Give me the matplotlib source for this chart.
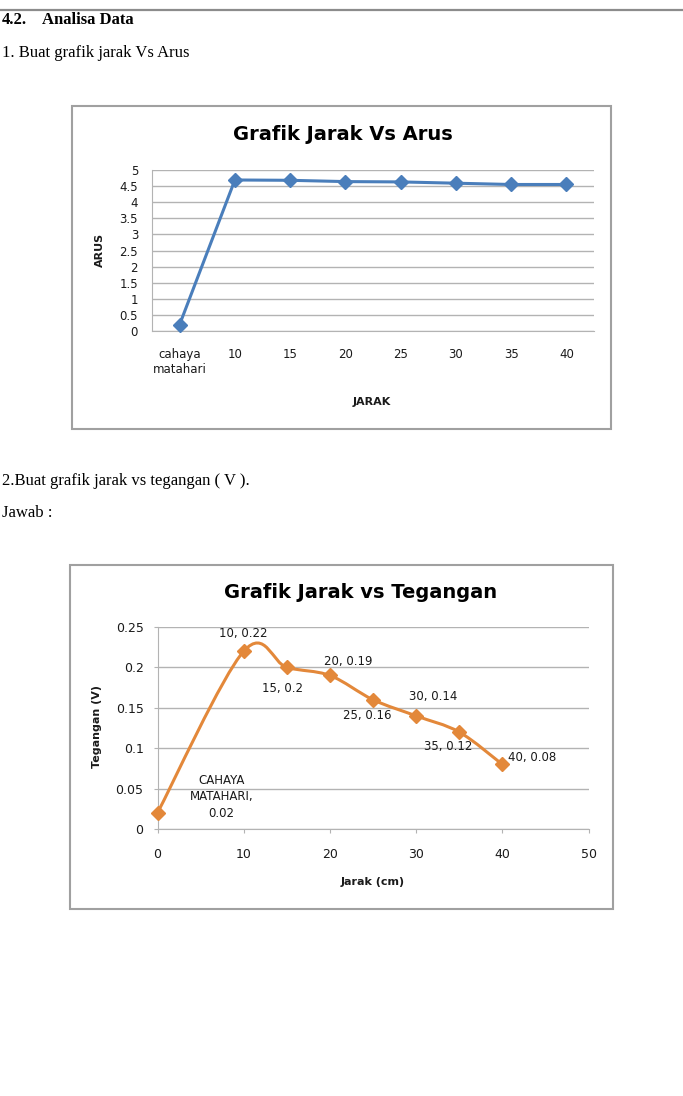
import numpy as np
import matplotlib
matplotlib.use("Agg")
import matplotlib.pyplot as plt
from matplotlib.path import Path
from matplotlib.patches import PathPatch, Rectangle
from matplotlib.lines import Line2D

# ========================================================================
# data : grafik jarak vs arus
jarak_kategori = ["cahaya\nmatahari", "10", "15", "20", "25", "30", "35", "40"]
arus = [0.2, 4.69, 4.68, 4.64, 4.63, 4.59, 4.55, 4.55]
arus_ticks = [0, 0.5, 1, 1.5, 2, 2.5, 3, 3.5, 4, 4.5, 5]

# data : grafik jarak vs tegangan
jarak_cm = [0, 10, 15, 20, 25, 30, 35, 40]
tegangan = [0.02, 0.22, 0.2, 0.19, 0.16, 0.14, 0.12, 0.08]
tegangan_label = ["CAHAYA\nMATAHARI,\n0.02", "10, 0.22", "15, 0.2", "20, 0.19",
                  "25, 0.16", "30, 0.14", "35, 0.12", "40, 0.08"]
jarak_ticks = [0, 10, 20, 30, 40, 50]
tegangan_ticks = [0, 0.05, 0.1, 0.15, 0.2, 0.25]

W, H = 683, 1096
GRID = '#b3b3b3'
BOX = '#a0a0a0'
TXT = '#1a1a1a'
BLUE = '#4a7ebb'
ORANGE = '#e3883a'


def fx(x):
    return x / W


def fy(y):
    return 1 - y / H


def smooth_path(xs, ys):
    """Bezier path through the points (same smoothing idea as spreadsheet charts)."""
    p = np.column_stack([xs, ys]).astype(float)
    ext = np.vstack([p[0], p, p[-1]])
    verts = [p[0]]
    codes = [Path.MOVETO]
    for i in range(len(p) - 1):
        c1 = ext[i + 1] + (ext[i + 2] - ext[i]) / 6.
        c2 = ext[i + 2] - (ext[i + 3] - ext[i + 1]) / 6.
        verts += [c1, c2, p[i + 1]]
        codes += [Path.CURVE4] * 3
    return Path(verts, codes)


fig = plt.figure(figsize=(W / 100, H / 100), dpi=100)
plt.rcParams['font.family'] = ['DejaVu Sans']

# ---- document text
fig.add_artist(Line2D([0, 1], [fy(10), fy(10)], transform=fig.transFigure,
                      color='#8c8c8c', lw=1.6))
serif = ['Liberation Serif', 'DejaVu Serif']
fig.text(fx(2), fy(20), '4.2.', family=serif, fontsize=12, weight='bold', va='center')
fig.text(fx(42), fy(20), 'Analisa Data', family=serif, fontsize=12, weight='bold', va='center')
fig.text(fx(2), fy(53), '1. Buat grafik jarak Vs Arus', family=serif, fontsize=12, va='center')
fig.text(fx(2), fy(481), '2.Buat grafik jarak vs tegangan ( V ).', family=serif, fontsize=12, va='center')
fig.text(fx(2), fy(513), 'Jawab :', family=serif, fontsize=12, va='center')

# ---- chart 1 : jarak vs arus
fig.add_artist(Rectangle((fx(72), fy(429)), fx(611) - fx(72), fy(106) - fy(429),
                         transform=fig.transFigure, fill=False, ec=BOX, lw=1.5))
ax1 = fig.add_axes([fx(152), fy(331), fx(594) - fx(152), fy(170) - fy(331)])
ax1.plot(jarak_kategori, arus, color=BLUE, lw=2.2, marker='D', ms=7, mec=BLUE, mfc=BLUE,
         clip_on=False, zorder=3)
ax1.set_xlim(-0.5, len(jarak_kategori) - 0.5)
ax1.set_ylim(0, 5)
ax1.set_yticks(arus_ticks)
ax1.set_yticklabels(['%g' % t for t in arus_ticks])
ax1.yaxis.grid(True, color=GRID, lw=1)
ax1.set_axisbelow(True)
for s in ['top', 'right']:
    ax1.spines[s].set_visible(False)
for s in ['left', 'bottom']:
    ax1.spines[s].set_color(GRID)
ax1.tick_params(axis='y', length=0, pad=10, labelsize=8.5, labelcolor=TXT)
ax1.tick_params(axis='x', length=0, pad=12, labelsize=8.5, labelcolor=TXT)
fig.text(fx(343), fy(134), 'Grafik Jarak Vs Arus', fontsize=14, weight='bold',
         ha='center', va='center', color='black')
fig.text(fx(100), fy(250), 'ARUS', fontsize=8, weight='bold', rotation=90,
         ha='center', va='center', color=TXT)
fig.text(fx(372), fy(402), 'JARAK', fontsize=8, weight='bold',
         ha='center', va='center', color=TXT)

# ---- chart 2 : jarak vs tegangan
fig.add_artist(Rectangle((fx(70), fy(909)), fx(613) - fx(70), fy(565) - fy(909),
                         transform=fig.transFigure, fill=False, ec=BOX, lw=1.5))
ax2 = fig.add_axes([fx(157.5), fy(829), fx(588.5) - fx(157.5), fy(627) - fy(829)])
ax2.add_patch(PathPatch(smooth_path(jarak_cm, tegangan), fc='none', ec=ORANGE, lw=2.2,
                        zorder=3, capstyle='round', joinstyle='round'))
ax2.plot(jarak_cm, tegangan, ls='none', marker='D', ms=7, mec=ORANGE, mfc=ORANGE,
         clip_on=False, zorder=4)
ax2.set_xlim(0, 50)
ax2.set_ylim(0, 0.25)
ax2.set_xticks(jarak_ticks)
ax2.set_yticks(tegangan_ticks)
ax2.set_yticklabels(['%g' % t for t in tegangan_ticks])
ax2.yaxis.grid(True, color=GRID, lw=1)
ax2.set_axisbelow(True)
for s in ['top', 'right']:
    ax2.spines[s].set_visible(False)
for s in ['left', 'bottom']:
    ax2.spines[s].set_color(GRID)
ax2.tick_params(axis='both', length=3, color=GRID, labelsize=9, labelcolor=TXT)
ax2.tick_params(axis='y', pad=7)
ax2.tick_params(axis='x', pad=11)

label_offset = [(64, 16), (0, 18), (-4, -21), (18, 14), (-6, -16), (17, 19), (-11, -14), (30, 7)]
for x, y, lab, (dx, dy) in zip(jarak_cm, tegangan, tegangan_label, label_offset):
    ax2.annotate(lab, (x, y), xytext=(dx, dy), textcoords='offset pixels',
                 ha='center', va='center', fontsize=8.5, color=TXT, linespacing=1.35)

fig.text(fx(361), fy(593), 'Grafik Jarak vs Tegangan', fontsize=14, weight='bold',
         ha='center', va='center', color='black')
fig.text(fx(97), fy(727), 'Tegangan (V)', fontsize=8, weight='bold', rotation=90,
         ha='center', va='center', color=TXT)
fig.text(fx(373), fy(882), 'Jarak (cm)', fontsize=8, weight='bold',
         ha='center', va='center', color=TXT)

fig.savefig('out.png', dpi=100)
